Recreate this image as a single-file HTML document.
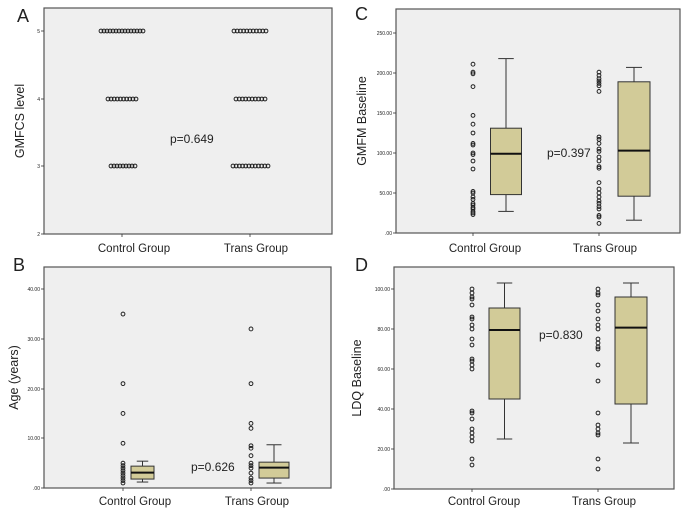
<!DOCTYPE html>
<html><head><meta charset="utf-8"><style>
html,body{margin:0;padding:0;background:#fff;width:685px;height:513px;overflow:hidden}
svg{display:block;font-family:"Liberation Sans",sans-serif}
</style></head><body>
<svg id="s" width="685" height="513" viewBox="0 0 685 513"></svg>
<script>
const s=document.getElementById('s');let h='';
function T(x,y,t,sz,anc,extra){h+=`<text x="${x}" y="${y}" font-size="${sz}" text-anchor="${anc||'start'}" fill="#222" ${extra||''}>${t}</text>`;}
function panel(x0,y0,x1,y1,ticks,ylabel,letter,lx,ly,xt,labY,ylx){
 h+=`<rect x="${x0}" y="${y0}" width="${x1-x0}" height="${y1-y0}" fill="#efefef" stroke="#555" stroke-width="1.2"/>`;
 ticks.forEach(t=>{h+=`<line x1="${x0-3}" x2="${x0}" y1="${t[0]}" y2="${t[0]}" stroke="#333" stroke-width="0.8"/>`;T(x0-4,t[0]+1.8,t[1],5,'end');});
 xt.forEach(x=>{h+=`<line x1="${x}" x2="${x}" y1="${y1}" y2="${y1+3}" stroke="#333" stroke-width="0.8"/>`;});
 T(xt[0]+12,labY,'Control Group',11.5,'middle');T(xt[1]+6,labY,'Trans Group',11.5,'middle');
 const cy=(y0+y1)/2;T(0,0,ylabel,12.5,'middle',`transform="translate(${ylx},${cy}) rotate(-90)"`);
 T(lx,ly,letter,18,'start');
}
function dot(x,y){h+=`<circle cx="${x}" cy="${y}" r="1.9" fill="none" stroke="#222" stroke-width="1"/>`;}
function box(cx,w,ys,q3,med,q1,wb,wt){
 h+=`<line x1="${cx}" x2="${cx}" y1="${ys(wt)}" y2="${ys(q3)}" stroke="#333" stroke-width="1"/>`;
 h+=`<line x1="${cx}" x2="${cx}" y1="${ys(q1)}" y2="${ys(wb)}" stroke="#333" stroke-width="1"/>`;
 h+=`<line x1="${cx-w/4}" x2="${cx+w/4}" y1="${ys(wt)}" y2="${ys(wt)}" stroke="#333" stroke-width="1"/>`;
 h+=`<line x1="${cx-w/4}" x2="${cx+w/4}" y1="${ys(wb)}" y2="${ys(wb)}" stroke="#333" stroke-width="1"/>`;
 h+=`<rect x="${cx-w/2}" y="${ys(q3)}" width="${w}" height="${ys(q1)-ys(q3)}" fill="#d2cb98" stroke="#333" stroke-width="1"/>`;
 h+=`<line x1="${cx-w/2}" x2="${cx+w/2}" y1="${ys(med)}" y2="${ys(med)}" stroke="#111" stroke-width="2"/>`;
}
// A
panel(44,8,332,234,[[31,'5'],[99,'4'],[166,'3'],[234,'2']],'GMFCS level','A',17,22,[122,250],252,24);
function row(a,b,y){const n=Math.round((b-a)/3.1);for(let i=0;i<=n;i++)dot(a+(b-a)*i/n,y);}
row(101,143,31);row(108,136,99);row(111,135,166);row(234,266,31);row(236,265,99);row(233,268,166);
T(170,143,'p=0.649',12);
// C
const yc=v=>233-0.8*v;
panel(396,9,680,233,[[33,'250.00'],[73,'200.00'],[113,'150.00'],[153,'100.00'],[193,'50.00'],[233,'.00']],'GMFM Baseline','C',355,20,[473,599],252,366);
[211,201,199,183,147,136,125,112,110,100,98,90,80,52,50,45,42,37,35,32,30,27,25,23].forEach(v=>dot(473,yc(v)));
[201,197,193,190,187,184,177,120,117,112,105,102,95,90,83,81,63,55,50,45,40,37,33,30,22,20,12].forEach(v=>dot(599,yc(v)));
box(506,31,yc,131,99,48,27,218);box(634,32,yc,189,103,46,16,207);
T(547,157,'p=0.397',12);
// B
const yb=v=>488-4.97*v;
panel(44,267,331,488,[[289,'40.00'],[339,'30.00'],[389,'20.00'],[438,'10.00'],[488,'.00']],'Age (years)','B',13,271,[123,251],505,18);
[35,21,15,9,5,4.5,4,3.5,3,2.5,2,1.5,1].forEach(v=>dot(123,yb(v)));
[32,21,13,12,8.5,8,6.5,5,4.5,4,3,2,1.5,1].forEach(v=>dot(251,yb(v)));
box(142.5,23,yb,4.4,3.1,1.8,1.2,5.4);box(274,30,yb,5.2,4.1,2,1,8.7);
T(191,471,'p=0.626',12);
// D
const yd=v=>489-2*v;
panel(394,267,674,489,[[289,'100.00'],[329,'80.00'],[369,'60.00'],[409,'40.00'],[449,'20.00'],[489,'.00']],'LDQ Baseline','D',355,271,[472,598],505,361);
[100,98,96,95,92,86,85,82,80,75,72,65,64,62,60,39,38,35,30,28,26,24,15,12].forEach(v=>dot(472,yd(v)));
[100,98,97,92,89,85,82,80,75,73,71,70,62,54,38,32,30,28,27,15,10].forEach(v=>dot(598,yd(v)));
box(504.5,31,yd,90.5,79.5,45,25,103);box(631,32,yd,96,80.7,42.5,23,103);
T(539,339,'p=0.830',12);
s.innerHTML=h;
</script>
</body></html>
